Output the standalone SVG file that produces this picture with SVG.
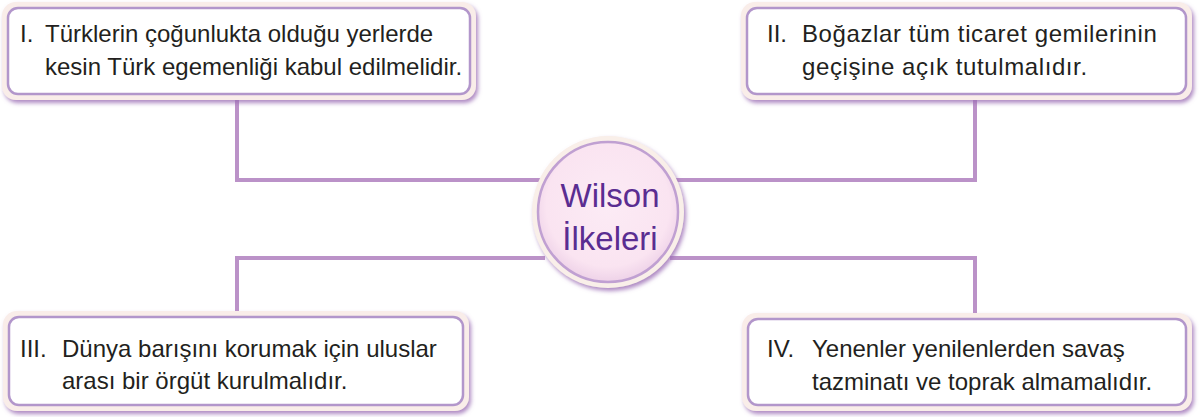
<svg xmlns="http://www.w3.org/2000/svg" width="1201" height="417" viewBox="0 0 1201 417">
<defs>
<filter id="sh" x="-5%" y="-10%" width="110%" height="130%">
<feGaussianBlur in="SourceAlpha" stdDeviation="2"/>
<feOffset dx="2" dy="3" result="b"/>
<feFlood flood-color="#9a6cb4" flood-opacity="0.8"/>
<feComposite in2="b" operator="in"/>
<feMerge><feMergeNode/><feMergeNode in="SourceGraphic"/></feMerge>
</filter>
<radialGradient id="cg" cx="0.5" cy="0.45" r="0.55">
<stop offset="0" stop-color="#fcebf5"/>
<stop offset="0.8" stop-color="#fae4f1"/>
<stop offset="1" stop-color="#eed2e8"/>
</radialGradient>
</defs>
<style>
.con{fill:none;stroke:#bb92c8;stroke-width:4}
.outer{fill:#f9ede9}
.inner{fill:#ffffff;stroke:#b296cb;stroke-width:2.5}
.t{font-family:"Liberation Sans",Arial,sans-serif;font-size:24px;fill:#231f20}
.w{letter-spacing:0.6px}
.c{font-family:"Liberation Sans",Arial,sans-serif;font-size:33px;fill:#5a2d91;text-anchor:middle}
</style>
<rect width="1201" height="417" fill="#ffffff"/>
<g id="connectors">
<path class="con" d="M237 100 V180 H545"/>
<path class="con" d="M975 100 V180 H670"/>
<path class="con" d="M237 314 V258 H545"/>
<path class="con" d="M975 314 V258 H670"/>
</g>
<g id="node1">
<g filter="url(#sh)">
<rect class="outer" x="2" y="2" width="474" height="98" rx="14"/>
<rect class="inner" x="8" y="8" width="462" height="86" rx="10"/>
</g>
<text class="t" x="20" y="42">I.</text>
<text class="t" x="45" y="42">Türklerin çoğunlukta olduğu yerlerde</text>
<text class="t" x="45" y="75">kesin Türk egemenliği kabul edilmelidir.</text>
</g>
<g id="node2">
<g filter="url(#sh)">
<rect class="outer" x="741" y="2" width="451" height="98" rx="14"/>
<rect class="inner" x="747" y="8" width="439" height="86" rx="10"/>
</g>
<text class="t" x="767" y="42">II.</text>
<text class="t w" x="802" y="42">Boğazlar tüm ticaret gemilerinin</text>
<text class="t w" x="802" y="75">geçişine açık tutulmalıdır.</text>
</g>
<g id="node3">
<g filter="url(#sh)">
<rect class="outer" x="3" y="311" width="466" height="100" rx="14"/>
<rect class="inner" x="9" y="317" width="454" height="88" rx="10"/>
</g>
<text class="t" x="20" y="357">III.</text>
<text class="t" x="62" y="357">Dünya barışını korumak için uluslar</text>
<text class="t" x="62" y="389">arası bir örgüt kurulmalıdır.</text>
</g>
<g id="node4">
<g filter="url(#sh)">
<rect class="outer" x="742" y="313" width="450" height="98" rx="14"/>
<rect class="inner" x="748" y="319" width="438" height="86" rx="10"/>
</g>
<text class="t" x="767" y="357">IV.</text>
<text class="t" x="812" y="357">Yenenler yenilenlerden savaş</text>
<text class="t" x="812" y="390">tazminatı ve toprak almamalıdır.</text>
</g>
<g id="center">
<g filter="url(#sh)">
<circle cx="608" cy="212" r="76" fill="#f9efe9"/>
<circle cx="608" cy="212" r="70" fill="url(#cg)" stroke="#c0a0d2" stroke-width="2.5"/>
</g>
<text class="c" x="610" y="207">Wilson</text>
<text class="c" x="610" y="250">İlkeleri</text>
</g>
</svg>
